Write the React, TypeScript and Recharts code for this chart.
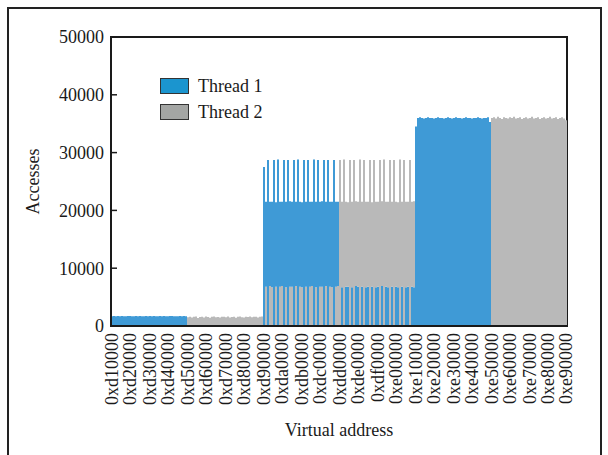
import { BarChart, Bar, XAxis, YAxis, Cell, Legend, ReferenceArea } from 'recharts';

const FONT = '"Liberation Serif", "Times New Roman", serif';
const INK = '#1a1a1a';
const BLUE = '#3f9ad6';
const GRAY = '#b9b9b9';
const SWATCH = ['#1b95cf', '#a4a6a4'];

const THREADS = ['Thread 1', 'Thread 2'];

const xTickLabels = [
    '0xd10000', '0xd20000', '0xd30000', '0xd40000', '0xd50000', '0xd60000', '0xd70000',
    '0xd80000', '0xd90000', '0xda0000', '0xdb0000', '0xdc0000', '0xdd0000', '0xde0000',
    '0xdf0000', '0xe00000', '0xe10000', '0xe20000', '0xe30000', '0xe40000', '0xe50000',
    '0xe60000', '0xe70000', '0xe80000', '0xe90000',
];
const yTicks = [0, 10000, 20000, 30000, 40000, 50000];

// each address block (0x40000 wide) is read as 38 columns
const NONE = [
    0, 0, 0, 0, 0, 0, 0, 0, 0, 0,
    0, 0, 0, 0, 0, 0, 0, 0, 0, 0,
    0, 0, 0, 0, 0, 0, 0, 0, 0, 0,
    0, 0, 0, 0, 0, 0, 0, 0,
];
// 0xd10000 - 0xd50000
const lowT1 = [
    1700, 1720, 1690, 1710, 1700, 1730, 1690, 1700, 1710, 1720,
    1700, 1690, 1710, 1700, 1720, 1700, 1690, 1710, 1700, 1730,
    1700, 1710, 1690, 1700, 1720, 1700, 1710, 1690, 1700, 1720,
    1710, 1700, 1690, 1700, 1720, 1700, 1710, 1690,
];
// 0xd50000 - 0xd90000
const lowT2 = [
    1500, 1620, 1450, 1580, 1650, 1400, 1560, 1600, 1480, 1630,
    1550, 1420, 1600, 1660, 1500, 1570, 1450, 1620, 1580, 1500,
    1640, 1480, 1560, 1610, 1430, 1590, 1650, 1520, 1470, 1600,
    1560, 1640, 1500, 1580, 1620, 1460, 1600, 1640,
];
// 0xd90000 - 0xdd0000
const midT1Peak = [
    27500, 21500, 28700, 21500, 21500, 28700, 21400, 28800, 21500, 21500,
    28700, 21500, 28700, 21600, 21500, 28700, 21500, 28800, 21500, 21400,
    28700, 21500, 28700, 21500, 21500, 28800, 21500, 28700, 21500, 21600,
    28700, 21500, 28700, 21500, 21500, 28700, 21500, 21500,
];
const midT2Under = [
    0, 6800, 0, 6900, 6700, 0, 6800, 0, 6800, 6900,
    0, 6700, 0, 6800, 6800, 0, 6900, 0, 6800, 6700,
    0, 6800, 0, 6800, 6900, 0, 6700, 0, 6800, 6800,
    0, 6900, 0, 6800, 6700, 0, 6800, 6900,
];
// 0xdd0000 - 0xe10000
const midT2Peak = [
    28700, 21500, 28800, 21500, 21400, 28700, 21500, 28700, 21600, 21500,
    28800, 21500, 28700, 21500, 21500, 28700, 21400, 28700, 21500, 21500,
    28700, 21600, 28800, 21500, 21500, 28700, 21500, 28700, 21500, 21400,
    28800, 21500, 28700, 21500, 21500, 28700, 21500, 21600,
];
const midT1Under = [
    0, 6700, 0, 6800, 6800, 0, 6700, 0, 6900, 6800,
    0, 6800, 0, 6700, 6800, 0, 6800, 0, 6700, 6800,
    0, 6900, 0, 6800, 6700, 0, 6800, 0, 6800, 6700,
    0, 6800, 0, 6700, 6800, 0, 6800, 6700,
];
// 0xe10000 - 0xe50000
const highT1 = [
    34500, 36000, 36100, 36000, 35900, 36000, 36100, 36000, 36000, 35900,
    36000, 36100, 36000, 36000, 35900, 36000, 36100, 36000, 35900, 36000,
    36100, 36000, 36000, 35900, 36000, 36100, 36000, 36000, 35900, 36000,
    36000, 36100, 36000, 35900, 36000, 36000, 36100, 35300,
];
// 0xe50000 - 0xe90000
const highT2 = [
    36000, 36100, 35900, 36200, 36000, 35800, 36100, 36000, 35900, 36100,
    36000, 36200, 35900, 36000, 36100, 35800, 36000, 36100, 35900, 36000,
    36200, 35900, 36000, 36100, 35800, 36000, 36100, 35900, 36000, 36200,
    35900, 36000, 36100, 35800, 36000, 36100, 35900, 35600,
];

const thread1 = [...lowT1, ...NONE, ...midT1Peak, ...midT1Under, ...highT1, ...NONE];
const thread2 = [...NONE, ...lowT2, ...midT2Under, ...midT2Peak, ...NONE, ...highT2];

// overlapping bars: the smaller count sits in front, the rest of the larger one above it
const rows = thread1.map((a, i) => {
    const b = thread2[i];
    return {
        i,
        front: Math.min(a, b),
        back: Math.abs(a - b),
        frontColor: a <= b ? BLUE : GRAY,
        backColor: a >= b ? BLUE : GRAY,
    };
});

// address labels sit every 0x10000, i.e. every (columns / 24) columns
const perLabel = rows.length / (xTickLabels.length - 1);
const labelAt = new Map(
    xTickLabels.map((l, k) => [Math.min(rows.length - 1, Math.floor(k * perLabel)), l] as [number, string])
);

const AddressTick = ({ x, y, payload }: any) => {
    const label = labelAt.get(payload.value);
    if (!label) return null;
    return (
        <text
            x={x}
            y={y}
            dy="0.35em"
            transform={`rotate(-90 ${x} ${y})`}
            textAnchor="end"
            fontSize={18}
            fontFamily={FONT}
            fill={INK}
        >
            {label}
        </text>
    );
};

// tick label plus a short inward tick mark
const AccessTick = ({ x, y, payload }: any) => (
    <g>
        <line x1={x + 7} x2={x + 13} y1={y} y2={y} stroke={INK} strokeWidth={1.5} />
        <text x={x} y={y} dy="0.355em" textAnchor="end" fontSize={18} fontFamily={FONT} fill={INK}>
            {payload.value}
        </text>
    </g>
);

const renderLegend = () => (
    <div style={{ display: 'flex', flexDirection: 'column', gap: 10, fontFamily: FONT }}>
        {THREADS.map((name, i) => (
            <div key={name} style={{ display: 'flex', alignItems: 'center', height: 16 }}>
                <span
                    style={{
                        width: 29,
                        height: 16,
                        boxSizing: 'border-box',
                        border: '1.5px solid #333',
                        background: SWATCH[i],
                        marginRight: 9,
                    }}
                />
                <span style={{ fontSize: 18, color: INK, lineHeight: '16px', whiteSpace: 'nowrap' }}>{name}</span>
            </div>
        ))}
    </div>
);

export default function App() {
    return (
        <div style={{ position: 'fixed', left: 0, top: 0, width: 608, height: 455, overflow: 'hidden', background: '#fff', fontFamily: FONT }}>
            <div
                style={{
                    position: 'absolute',
                    left: 7,
                    top: 7,
                    width: 595,
                    height: 470,
                    border: '2px solid #222',
                    boxSizing: 'border-box',
                }}
            />
            <div style={{ position: 'absolute', left: 0, top: 0 }}>
                <BarChart
                    width={608}
                    height={455}
                    data={rows}
                    margin={{ top: 37, right: 41, bottom: 0, left: 0 }}
                    barCategoryGap={0}
                    barGap={0}
                >
                    <XAxis
                        xAxisId="bars"
                        dataKey="i"
                        interval={0}
                        height={129}
                        tick={<AddressTick />}
                        tickLine={false}
                        tickSize={0}
                        tickMargin={7}
                        axisLine={{ stroke: INK, strokeWidth: 2 }}
                        label={{ value: 'Virtual address', position: 'insideBottom', offset: 19, fontSize: 18, fill: INK, fontFamily: FONT }}
                    />
                    <YAxis
                        yAxisId="acc"
                        domain={[0, 50000]}
                        ticks={yTicks}
                        interval={0}
                        width={111}
                        tickLine={false}
                        tickSize={0}
                        tickMargin={7}
                        axisLine={{ stroke: INK, strokeWidth: 2 }}
                        tick={<AccessTick />}
                        label={{ value: 'Accesses', angle: -90, position: 'insideLeft', offset: 33, fontSize: 18, fill: INK, fontFamily: FONT, style: { textAnchor: 'middle' } }}
                    />
                    <Legend
                        content={renderLegend}
                        layout="vertical"
                        align="center"
                        verticalAlign="middle"
                        wrapperStyle={{ left: 160, top: 78, width: 150, height: 42 }}
                    />
                    <Bar dataKey="front" stackId="s" xAxisId="bars" yAxisId="acc" isAnimationActive={false}>
                        {rows.map((r) => (
                            <Cell key={`f-${r.i}`} fill={r.frontColor} />
                        ))}
                    </Bar>
                    <Bar dataKey="back" stackId="s" xAxisId="bars" yAxisId="acc" isAnimationActive={false}>
                        {rows.map((r) => (
                            <Cell key={`b-${r.i}`} fill={r.backColor} />
                        ))}
                    </Bar>
                    <ReferenceArea
                        xAxisId="bars"
                        yAxisId="acc"
                        x1={0}
                        x2={rows.length - 1}
                        y1={0}
                        y2={50000}
                        fill="none"
                        stroke={INK}
                        strokeWidth={2}
                        ifOverflow="visible"
                    />
                </BarChart>
            </div>
        </div>
    );
}
